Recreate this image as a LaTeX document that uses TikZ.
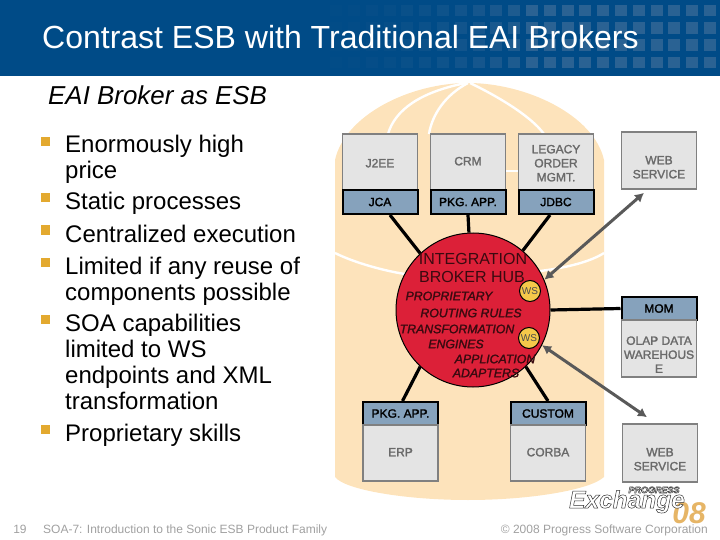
\documentclass[tikz,border=0pt]{standalone}
\usepackage{fontspec}
\setmainfont{Liberation Sans}
\newfontfamily\fauxfam[FakeBold=1.8]{Liberation Sans}
\usetikzlibrary{arrows.meta,calc}
\definecolor{hdr}{HTML}{004B87}
\definecolor{hdrsq}{HTML}{2A6293}
\definecolor{peach}{HTML}{FDE3BB}
\definecolor{boxfill}{HTML}{E4E4E4}
\definecolor{boxline}{HTML}{808080}
\definecolor{boxtext}{HTML}{6A6A6A}
\definecolor{bandfill}{HTML}{86A2BC}
\definecolor{hubred}{HTML}{DC2038}
\definecolor{hubtext}{HTML}{3A0A10}
\definecolor{wsfill}{HTML}{F5C84A}
\definecolor{bullet}{HTML}{E3A92F}
\definecolor{gold}{HTML}{E6B566}
\definecolor{arrowgrey}{HTML}{595959}
\definecolor{foot}{HTML}{A0A0A0}
\newcommand{\px}[1]{\fontsize{#1}{#1}\selectfont}
\newcommand{\outl}[1]{\special{pdf:code q 2 Tr 0.5 w 0.2 0.2 0.2 RG}#1\special{pdf:code 0 Tr Q}}
\newcommand{\shifted}[2]{\raisebox{-#1pt}[0pt][0pt]{\begin{tabular}{@{}c@{}}#2\end{tabular}}}
\tikzset{
  sysbox/.style={draw=boxline,line width=1.6pt,fill=boxfill,minimum width=75pt,inner sep=0pt,
    text=boxtext,font=\fontsize{12}{14}\selectfont\fauxfam,anchor=center},
  band/.style={draw=black,line width=2pt,fill=bandfill,minimum width=75pt,inner sep=0pt,
    text=black,font=\px{12}\fauxfam,anchor=center},
  link/.style={draw=black,line width=3.2pt},
  duplex/.style={draw=arrowgrey,line width=3pt,{Latex[length=9pt,width=10pt]}-{Latex[length=9pt,width=10pt]}},
  ws/.style={circle,draw=black,line width=1pt,fill=wsfill,minimum size=21pt,inner sep=0pt,font=\px{10},text=black!70},
  hubitem/.style={font=\px{12.3}\fauxfam\itshape,text=hubtext,inner sep=0pt,anchor=center},
  hubhead/.style={font=\px{16},text=hubtext,inner sep=0pt,anchor=center},
  bulletitem/.style={font=\px{24},text=black,inner sep=0pt,anchor=base west},
  bulletmark/.style={fill=bullet,minimum size=9pt,inner sep=0pt},
  meridian/.style={draw=white,line width=2.4pt}
}
\begin{document}
\begin{tikzpicture}[x=1pt,y=-1pt]
\useasboundingbox (0,0) rectangle (720,540);
% header
\fill[hdr] (0,0) rectangle (720,76);
\foreach \r in {5,22.5,39.5,57}{
  \foreach \i in {0,...,10}{
    \fill[hdrsq] ({526+17.8*\i},\r) rectangle ++(12,11.5);
  }
  \foreach \i/\o in {1/70,2/60,3/50,4/42,5/35,6/28,7/22,8/16,9/12,10/08,11/05}{
    \fill[hdrsq,opacity=0.\o] ({526-17.8*\i},\r) rectangle ++(12,11.5);
  }
}
\node[font=\px{32},text=white,inner sep=0pt,anchor=base west] (title) at (42,49) {Contrast ESB with Traditional EAI Brokers};
\node[font=\px{25.9}\itshape,text=black,inner sep=0pt,anchor=base west] (sub) at (48,105) {EAI Broker as ESB};
% bullets
\node[bulletmark] (b1) at (45.5,141.5) {};
\node[bulletmark] (b2) at (45.5,198) {};
\node[bulletmark] (b3) at (45.5,230) {};
\node[bulletmark] (b4) at (45.5,262) {};
\node[bulletmark] (b5) at (45.5,319) {};
\node[bulletmark] (b6) at (45.5,429) {};
\node[bulletitem] (t1) at (65,153) {Enormously high};
\node[bulletitem] (t1b) at (65,179) {price};
\node[bulletitem] (t2) at (65,210) {Static processes};
\node[bulletitem] (t3) at (65,242) {Centralized execution};
\node[bulletitem] (t4) at (65,274) {Limited if any reuse of};
\node[bulletitem] (t4b) at (65,300) {components possible};
\node[bulletitem] (t5) at (65,331) {SOA capabilities};
\node[bulletitem] (t5b) at (65,357) {limited to WS};
\node[bulletitem] (t5c) at (65,383) {endpoints and XML};
\node[bulletitem] (t5d) at (65,409) {transformation};
\node[bulletitem] (t6) at (65,441) {Proprietary skills};
% globe
\fill[peach] (335,477) -- (335,160) .. controls (345,115) and (410,83) .. (468,83)
  .. controls (526,83) and (594,115) .. (604,160) -- (604,477)
  .. controls (590,490) and (530,500) .. (468,500) .. controls (406,500) and (345,490) .. (335,477) -- cycle;
\draw[meridian] (466,83) .. controls (420,92) and (395,110) .. (388,134);
\draw[meridian] (468,83) .. controls (445,95) and (432,115) .. (429,134);
\draw[meridian] (470,83) .. controls (495,95) and (530,115) .. (544,134);
\draw[meridian] (506,171) -- (518,171);
\draw[meridian] (335,253) .. controls (355,263) and (385,271) .. (405,274);
\draw[meridian] (604,253) .. controls (590,262) and (565,268) .. (540,271);
% hub
\node[circle,draw=black,line width=1pt,fill=hubred,minimum size=154pt,inner sep=0pt] (hub) at (473,310) {};
% boxes
\node[sysbox,minimum height=56pt] (j2ee) at (380,162) {\shifted{5.5}{J2EE}};
\node[band,minimum height=24pt] (jca) at (380,202) {JCA};
\node[sysbox,minimum height=56pt] (crm) at (468,162) {\shifted{3.5}{CRM}};
\node[band,minimum height=24pt] (pkg) at (468,202) {PKG. APP.};
\node[sysbox,minimum height=56pt] (legacy) at (556,162) {\shifted{5.5}{LEGACY\\ORDER\\MGMT.}};
\node[band,minimum height=24pt] (jdbc) at (556,202) {JDBC};
\node[sysbox,minimum height=57pt] (webtop) at (659,160.5) {\shifted{11}{WEB\\SERVICE}};
\node[band,minimum height=23pt] (mom) at (659,308.5) {MOM};
\node[sysbox,minimum height=57pt] (olap) at (659,348.5) {\shifted{10.5}{OLAP DATA\\WAREHOUS\\E}};
\node[band,minimum height=23pt] (pkgb) at (400.5,413.5) {PKG. APP.};
\node[sysbox,minimum height=56pt] (erp) at (400.5,453) {\shifted{3.5}{ERP}};
\node[band,minimum height=23pt] (custom) at (548,413.5) {CUSTOM};
\node[sysbox,minimum height=56pt] (corba) at (548,453) {\shifted{3.5}{CORBA}};
\node[sysbox,minimum height=58pt] (webbot) at (660,453) {\shifted{10.5}{WEB\\SERVICE}};
% connectors
\draw[link] ($(jca.south)+(10,0)$) -- (hub.133);
\draw[link] (pkg.south) -- (hub.93);
\draw[link] ($(jdbc.south)+(-6,0)$) -- (hub.50);
\draw[link] (mom.west) -- (hub.east);
\draw[link] ($(pkgb.north)+(2,0)$) -- (hub.-133);
\draw[link] (custom.north) -- (hub.-47);
\draw[duplex] ($(webtop.south)+(-15,3)$) -- (hub.23);
\draw[duplex] ($(webbot.north)+(-13,-6)$) -- (hub.-27);
% hub text
\node[hubhead] (h1) at (473,259) {INTEGRATION};
\node[hubhead] (h2) at (472,277) {BROKER HUB};
\node[ws] (ws1) at (530,291) {WS};
\node[ws] (ws2) at (529,338) {WS};
\node[hubitem] (h3) at (449,296) {PROPRIETARY};
\node[hubitem] (h4) at (471,313) {ROUTING RULES};
\node[hubitem] (h5) at (457,329) {TRANSFORMATION};
\node[hubitem] (h6) at (456,344) {ENGINES};
\node[hubitem] (h7) at (495,359) {APPLICATION};
\node[hubitem] (h8) at (486,373) {ADAPTERS};
% footer
\node[font=\px{12},text=foot,inner sep=0pt,anchor=base] (pg) at (20,533) {19};
\node[font=\px{12},text=foot,inner sep=0pt,anchor=base west] (ft) at (43,533) {SOA-7: Introduction to the Sonic ESB Product Family};
\node[font=\px{12},text=foot,inner sep=0pt,anchor=base east] (cp) at (708,533) {© 2008 Progress Software Corporation};
% logo
\node[font=\px{9}\bfseries\itshape,text=white,inner sep=0pt,anchor=base] (lg1) at (654,493) {\outl{PROGRESS}};
\node[font=\px{30}\bfseries\itshape,text=gold,inner sep=0pt,anchor=base] (lg3) at (689,523) {08};
\node[font=\px{24.5}\bfseries\itshape,text=white,inner sep=0pt,anchor=base] (lg2) at (627,508) {\outl{Exchange}};
\end{tikzpicture}
\end{document}
